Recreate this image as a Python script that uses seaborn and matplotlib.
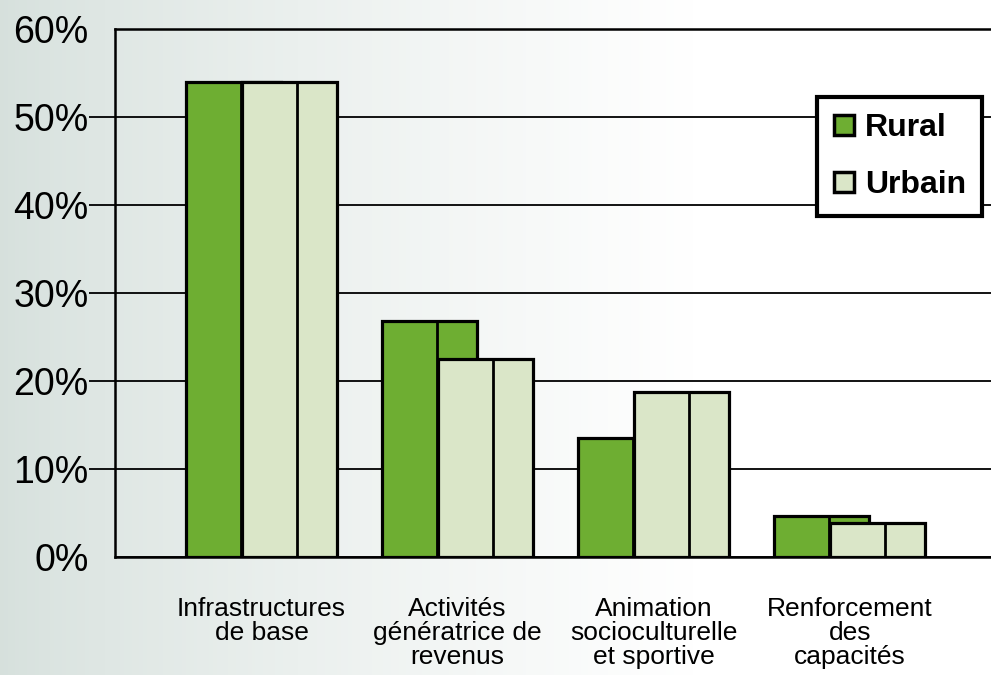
import numpy as np
import pandas as pd
import matplotlib
matplotlib.use("Agg")
import matplotlib.pyplot as plt
from matplotlib.lines import Line2D
import seaborn as sns

categories = ["Infrastructures\nde base", "Activités\ngénératrice de\nrevenus",
              "Animation\nsocioculturelle\net sportive", "Renforcement\ndes\ncapacités"]
rural = [54.0, 26.8, 13.5, 4.7]
urbain = [54.0, 22.5, 18.7, 3.9]
yticks = [0, 10, 20, 30, 40, 50, 60]
ytick_labels = ["0%", "10%", "20%", "30%", "40%", "50%", "60%"]

GREEN = "#6eae32"
LIGHT = "#dae6c8"

sns.set_theme(style="white")
plt.rcParams["font.family"] = ["Liberation Sans", "DejaVu Sans"]
plt.rcParams["text.color"] = "black"
plt.rcParams["xtick.color"] = "black"
plt.rcParams["ytick.color"] = "black"

fig = plt.figure(figsize=(9.91, 6.75), dpi=100)

# background gradient
bg = fig.add_axes([0, 0, 1, 1], zorder=-10)
grad = np.linspace(0, 1, 256)
t = np.clip(grad / 0.7, 0, 1) ** 0.8
left = np.array([0.84, 0.88, 0.865])
right = np.array([1.0, 1.0, 1.0])
img = left[None, :] * (1 - t[:, None]) + right[None, :] * t[:, None]
bg.imshow(img[None, :, :], aspect="auto", extent=[0, 1, 0, 1])
bg.axis("off")

ax = fig.add_axes([115 / 991, 1 - 557 / 675, 1 - 115 / 991, (557 - 29) / 675])
ax.set_facecolor("none")

df_r = pd.DataFrame({"cat": categories, "val": rural})
df_u = pd.DataFrame({"cat": categories, "val": urbain})

W = 0.485
OFF_R = -0.1425
OFF_U = 0.1425

n0 = len(ax.patches)
sns.barplot(data=df_r, x="cat", y="val", color=GREEN, width=W, ax=ax,
            edgecolor="black", linewidth=2.3, saturation=1, zorder=2)
for p in ax.patches[n0:]:
    p.set_x(p.get_x() + OFF_R)
    p.set_zorder(2)
    p.set_joinstyle("miter")
xr = [p.get_x() + 0.28 for p in ax.patches[n0:]]
ax.vlines(xr, 0, rural, colors="black", linewidth=2.0, zorder=3)

n1 = len(ax.patches)
sns.barplot(data=df_u, x="cat", y="val", color=LIGHT, width=W, ax=ax,
            edgecolor="black", linewidth=2.3, saturation=1, zorder=4)
for p in ax.patches[n1:]:
    p.set_x(p.get_x() + OFF_U)
    p.set_zorder(4)
    p.set_joinstyle("miter")
xu = [p.get_x() + 0.28 for p in ax.patches[n1:]]
ax.vlines(xu, 0, urbain, colors="black", linewidth=2.0, zorder=5)

ax.set_xlim(-0.747, 3.72)
ax.set_ylim(0, 60)
ax.set_yticks(yticks)
ax.set_yticklabels(ytick_labels, fontsize=27, color="black")
ax.yaxis.grid(True, color="black", linewidth=1.3, zorder=1)
ax.set_axisbelow(True)
ax.tick_params(axis="y", length=19, width=1.3, color="black", pad=0, direction="out", left=True)
for i, tl in enumerate(ax.yaxis.get_major_ticks()):
    if i in (0, len(yticks) - 1):
        tl.tick1line.set_visible(False)

ax.set_xticks(range(len(categories)))
ax.set_xticklabels(categories, fontsize=19, linespacing=1.0, va="top", color="black")
ax.tick_params(axis="x", length=0, pad=29)
ax.set_xlabel("")
ax.set_ylabel("")

for s in ["left", "top", "bottom"]:
    ax.spines[s].set_visible(True)
    ax.spines[s].set_color("black")
    ax.spines[s].set_linewidth(1.8)
ax.spines["right"].set_visible(False)

handles = [
    Line2D([], [], marker="s", linestyle="none", markersize=15, markerfacecolor=GREEN,
           markeredgecolor="black", markeredgewidth=2.5, label="Rural"),
    Line2D([], [], marker="s", linestyle="none", markersize=15, markerfacecolor=LIGHT,
           markeredgecolor="black", markeredgewidth=2.5, label="Urbain"),
]
leg = ax.legend(handles=handles, loc="upper right",
                bbox_to_anchor=(982 / 991, 1 - 97 / 675), bbox_transform=fig.transFigure,
                borderaxespad=0, frameon=True, fancybox=False, framealpha=1,
                prop={"weight": "bold", "size": 23}, handlelength=0.7, handletextpad=0.3,
                labelspacing=0.85, borderpad=0.5)
for txt in leg.get_texts():
    txt.set_color("black")
leg.get_frame().set_edgecolor("black")
leg.get_frame().set_linewidth(3)
leg.get_frame().set_facecolor("white")
leg.set_zorder(10)

fig.savefig("out.png", dpi=100)
